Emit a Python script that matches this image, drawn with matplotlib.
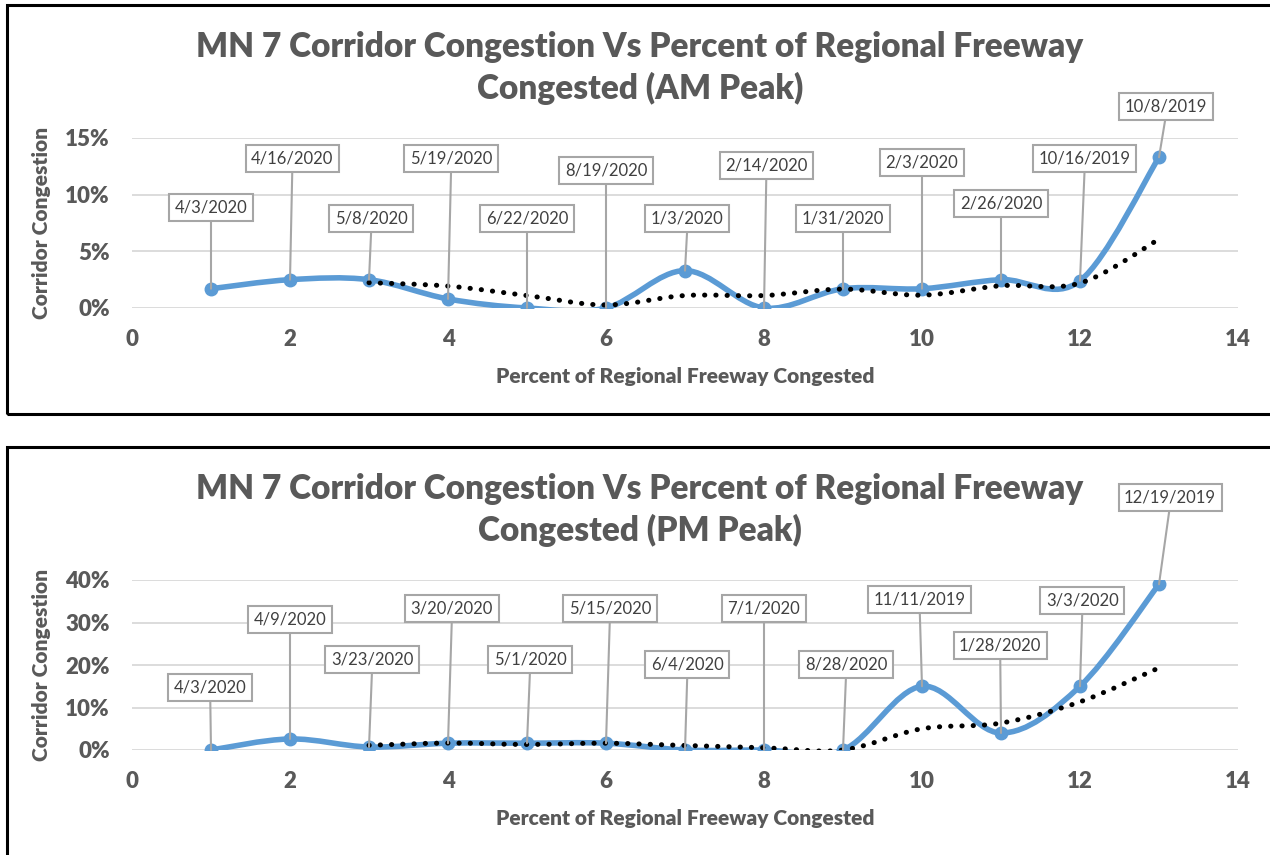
#!/usr/bin/python3

# Corridor congestion vs percent of regional freeway congested,
# AM and PM peak, Excel style with date callouts

import matplotlib
matplotlib.use("Agg")
import matplotlib.pyplot as plt
from matplotlib.path import Path
from matplotlib.patches import PathPatch, Rectangle
import numpy as np
import pandas as pd

# data
x_vals = [1, 2, 3, 4, 5, 6, 7, 8, 9, 10, 11, 12, 13]

am_title = "MN 7 Corridor Congestion Vs Percent of Regional Freeway\nCongested (AM Peak)"
am_vals = [1.7, 2.5, 2.5, 0.8, 0.0, 0.0, 3.3, 0.0, 1.7, 1.7, 2.5, 2.4, 13.3]
am_dates = ["4/3/2020", "4/16/2020", "5/8/2020", "5/19/2020", "6/22/2020", "8/19/2020",
            "1/3/2020", "2/14/2020", "1/31/2020", "2/3/2020", "2/26/2020", "10/16/2019",
            "10/8/2019"]
am_yticks = [0, 5, 10, 15]

pm_title = "MN 7 Corridor Congestion Vs Percent of Regional Freeway\nCongested (PM Peak)"
pm_vals = [0.0, 2.6, 0.7, 1.6, 1.6, 1.6, 0.0, 0.0, 0.0, 15.0, 4.0, 15.0, 39.0]
pm_dates = ["4/3/2020", "4/9/2020", "3/23/2020", "3/20/2020", "5/1/2020", "5/15/2020",
            "6/4/2020", "7/1/2020", "8/28/2020", "11/11/2019", "1/28/2020", "3/3/2020",
            "12/19/2019"]
pm_yticks = [0, 10, 20, 30, 40]

xticks = [0, 2, 4, 6, 8, 10, 12, 14]

# callout placement (layout only)
am_lab_y = [8.9, 13.2, 7.9, 13.2, 7.9, 12.1, 7.9, 12.6, 7.9, 12.8, 9.2, 13.2, 17.8]
am_lab_dx = [0, 0.03, 0.03, 0.04, 0, 0, 0.03, 0.03, 0, 0, 0, 0.06, 0.09]
pm_lab_y = [14.6, 30.6, 21.4, 33.4, 21.4, 33.4, 20.2, 33.2, 20.2, 35.5, 24.5, 35.1, 59.5]
pm_lab_dx = [-0.01, 0, 0.04, 0.05, 0.04, 0.05, 0.03, 0, 0.04, -0.03, -0.01, 0.03, 0.14]

GRAY = "#595959"
BLUE = "#5b9bd5"
FONT = "Lato"

W, H = 1270, 855


def smooth_path(xs, ys):
    # excel-like smoothed line as cubic bezier segments
    pts = np.column_stack([xs, ys]).astype(float)
    n = len(pts)
    verts = [pts[0]]
    codes = [Path.MOVETO]
    for i in range(n - 1):
        p0 = pts[i - 1] if i > 0 else pts[i]
        p1 = pts[i]
        p2 = pts[i + 1]
        p3 = pts[i + 2] if i + 2 < n else pts[i + 1]
        c1 = p1 + (p2 - p0) / 6.0
        c2 = p2 - (p3 - p1) / 6.0
        verts += [c1, c2, p2]
        codes += [Path.CURVE4] * 3
    return Path(verts, codes)


def panel(ax, title, vals, dates, yticks, lab_y, lab_dx, title_y):
    x = np.array(x_vals)
    y = np.array(vals)

    ax.add_patch(PathPatch(smooth_path(x, y), fill=False, edgecolor=BLUE,
                           lw=4, capstyle="round", joinstyle="round", zorder=3))
    ax.plot(x, y, "o", color=BLUE, ms=9, zorder=4)

    # 3 period moving average trendline
    ma = pd.Series(vals).rolling(3).mean()
    ok = ~ma.isna()
    ax.add_patch(PathPatch(smooth_path(x[ok.values], ma[ok].values), fill=False,
                           edgecolor="black", lw=3.6, linestyle=(0, (0.05, 2.2)),
                           capstyle="round", zorder=5))

    for xi, yi, d, ly, dx in zip(x, y, dates, lab_y, lab_dx):
        ax.annotate(d, xy=(xi, yi), xytext=(xi + dx, ly), ha="center", va="center",
                    fontsize=12, family=FONT, color="#404040", zorder=6,
                    annotation_clip=False,
                    bbox=dict(boxstyle="square,pad=0.33", fc="white", ec="#a6a6a6", lw=1.5),
                    arrowprops=dict(arrowstyle="-", color="#a6a6a6", lw=1.5,
                                    shrinkA=0, shrinkB=0, relpos=(0.5, 0)))

    ax.set_xlim(0, 14)
    ax.set_ylim(yticks[0], yticks[-1])
    ax.set_xticks(xticks)
    ax.set_yticks(yticks)
    ax.set_yticklabels(["%d%%" % t for t in yticks])
    ax.grid(axis="y", color="#d9d9d9", lw=1.3)
    ax.set_axisbelow(True)
    for s in ax.spines.values():
        s.set_visible(False)
    ax.tick_params(length=0, labelsize=16, labelcolor=GRAY)
    ax.tick_params(axis="x", pad=15)
    ax.tick_params(axis="y", pad=16)
    for lab in ax.get_xticklabels() + ax.get_yticklabels():
        lab.set_fontweight("heavy")
        lab.set_family(FONT)
    ax.set_xlabel("Percent of Regional Freeway Congested", fontsize=15, fontweight="heavy",
                  family=FONT, color=GRAY, labelpad=12)
    ax.set_ylabel("Corridor Congestion", fontsize=15, fontweight="heavy",
                  family=FONT, color=GRAY, labelpad=10)
    ax.figure.text(640 / W, 1 - title_y / H, title, ha="center", va="center",
                   fontsize=24, fontweight="heavy", family=FONT, color=GRAY,
                   linespacing=1.32)


fig = plt.figure(figsize=(W / 100, H / 100), dpi=100)

ax1 = fig.add_axes([132 / W, 1 - 308 / H, 1106 / W, 170 / H])
panel(ax1, am_title, am_vals, am_dates, am_yticks, am_lab_y, am_lab_dx, 68)

ax2 = fig.add_axes([132 / W, 1 - 750 / H, 1106 / W, 170 / H])
panel(ax2, pm_title, pm_vals, pm_dates, pm_yticks, pm_lab_y, pm_lab_dx, 510)

# chart frames
fig.add_artist(Rectangle((7 / W, 1 - 414 / H), 1.2, 409 / H, transform=fig.transFigure,
                         fill=False, ec="black", lw=2.2))
fig.add_artist(Rectangle((7 / W, -0.1), 1.2, 0.1 + 1 - 447 / H, transform=fig.transFigure,
                         fill=False, ec="black", lw=2.2))

fig.savefig("out.png", dpi=100)
